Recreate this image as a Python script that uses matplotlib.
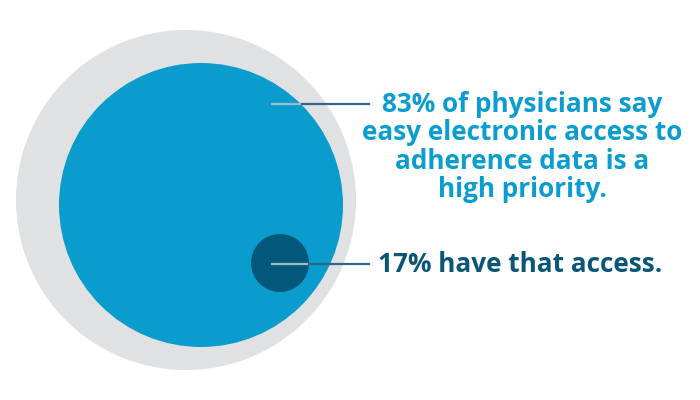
import matplotlib.pyplot as plt
from matplotlib.patches import Circle

# Statistics shown in the graphic
shares = [83, 17]
labels = ["83% of physicians say\neasy electronic access to\nadherence data is a\nhigh priority.",
          "17% have that access."]
label_colors = ["#0b9dd0", "#0b5577"]

# Circle layout (pixel coordinates of the 700x400 canvas)
circles = [
    {'xy': (186, 200), 'r': 170, 'color': '#e0e1e3'},
    {'xy': (201, 205), 'r': 142, 'color': '#0a9ccd'},
    {'xy': (280, 263), 'r': 29, 'color': '#03587a'},
]

fig = plt.figure(figsize=(7, 4), dpi=100)
ax = fig.add_axes([0, 0, 1, 1])
ax.set_xlim(0, 700)
ax.set_ylim(400, 0)
ax.axis('off')

for c in circles:
    ax.add_patch(Circle(c['xy'], c['r'], color=c['color'], lw=0))

# leader lines: light part inside the circle, dark part outside
leaders = [(104, 301), (264, 308)]
for (y, edge) in leaders:
    ax.plot([271, edge], [y, y], color='#9fbccb', lw=1.6, solid_capstyle='butt')
    ax.plot([edge, 370], [y, y], color='#2f6685', lw=1.6, solid_capstyle='butt')

ax.text(522, 147, labels[0], ha='center', va='center', color=label_colors[0],
        fontsize=18.8, fontweight='bold', family='Open Sans', linespacing=1.06)
ax.text(378, 265, labels[1], ha='left', va='center', color=label_colors[1],
        fontsize=18.8, fontweight='bold', family='Open Sans')

plt.savefig('out.png', dpi=100)
plt.close()
